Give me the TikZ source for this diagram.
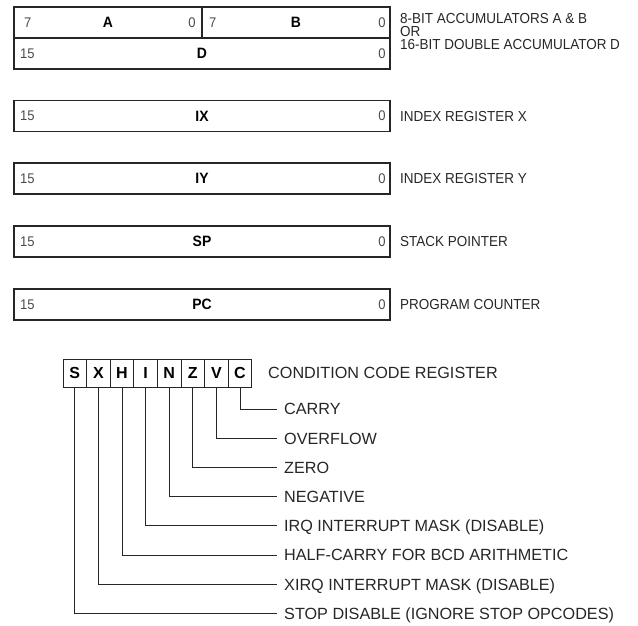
\documentclass[tikz,border=0pt]{standalone}
\usepackage{fontspec}
\setmainfont{Liberation Sans}
\newfontfamily\narrowfont{Liberation Sans}[FakeStretch=0.93]
\begin{document}
\begin{tikzpicture}[x=1pt,y=-1pt,
  regbox/.style={draw=black!85, line width=1.2pt, minimum height=31pt, inner sep=0pt, outer sep=0pt},
  num/.style={font=\narrowfont\fontsize{14}{14}\selectfont, text=black!70, inner sep=0pt, text height=10pt, text depth=0pt},
  rname/.style={font=\narrowfont\bfseries\fontsize{15}{15}\selectfont, inner sep=0pt, text height=10.7pt, text depth=0pt},
  rlabel/.style={font=\narrowfont\fontsize{14.5}{14.5}\selectfont, anchor=west, inner sep=0pt, text height=10.2pt, text depth=0pt, text=black!85},
  ccell/.style={draw=black!85, line width=1pt, minimum width=23.6pt, minimum height=28pt, inner sep=0pt, outer sep=0pt, font=\bfseries\fontsize{16}{16}\selectfont},
  clabel/.style={font=\fontsize{16.2}{16.2}\selectfont, anchor=west, inner sep=0pt, text height=11.6pt, text depth=0pt, text=black!85},
  conn/.style={draw=black!85, line width=1pt}
]
\useasboundingbox (0,0) rectangle (638,626);
% ---- A / B / D ----
\node[regbox, minimum width=188pt] (boxA) at (108,22.5) {};
\node[regbox, minimum width=188pt] (boxB) at (296,22.5) {};
\node[regbox, minimum width=376pt] (boxD) at (202,53.5) {};
\node[rname] (nA) at (108,22.5) {A};
\node[rname] (nB) at (296,22.5) {B};
\node[rname] (nD) at (202,53.5) {D};
\node[num, anchor=west] (a7) at (24,22.5) {7};
\node[num] (a0) at (192,22.5) {0};
\node[num, anchor=west] (b7) at (209,22.5) {7};
\node[num] (b0) at (382,22.5) {0};
\node[num, anchor=west] (d15) at (20,53.5) {15};
\node[num] (d0) at (382,53.5) {0};
\node[rlabel] (lab1) at (400,18) {8-BIT ACCUMULATORS A \& B};
\node[rlabel] (lab2) at (400,31) {OR};
\node[rlabel] (lab3) at (400,44) {16-BIT DOUBLE ACCUMULATOR D};
% ---- 16-bit registers ----
\foreach \nm/\y/\lab in {IX/116/INDEX REGISTER X, IY/178.5/INDEX REGISTER Y, SP/241.5/STACK POINTER, PC/304.5/PROGRAM COUNTER}{
  \node[regbox, minimum width=376pt] (box\nm) at (202,\y) {};
  \node[rname] (n\nm) at (202,\y) {\nm};
  \node[num, anchor=west] (h\nm) at (20,\y) {15};
  \node[num] (z\nm) at (382,\y) {0};
  \node[rlabel] (l\nm) at (400,\y) {\lab};
}
% ---- condition code register ----
\foreach \c [count=\i from 0] in {S,X,H,I,N,Z,V,C}{
  \node[ccell] (c\c) at ({74.8+23.6*\i},373) {\c};
}
\node[clabel] (ccr) at (268,373) {CONDITION CODE REGISTER};
\foreach \c/\lab [count=\i from 0] in {C/CARRY, V/OVERFLOW, Z/ZERO, N/NEGATIVE, I/IRQ INTERRUPT MASK (DISABLE), H/HALF-CARRY FOR BCD ARITHMETIC, X/XIRQ INTERRUPT MASK (DISABLE), S/STOP DISABLE (IGNORE STOP OPCODES)}{
  \node[clabel] (f\c) at (284,{409+29.2*\i}) {\lab};
  \coordinate (e\c) at (277,{409+29.2*\i});
  \draw[conn] (c\c.south) |- (e\c);
}
\end{tikzpicture}
\end{document}
